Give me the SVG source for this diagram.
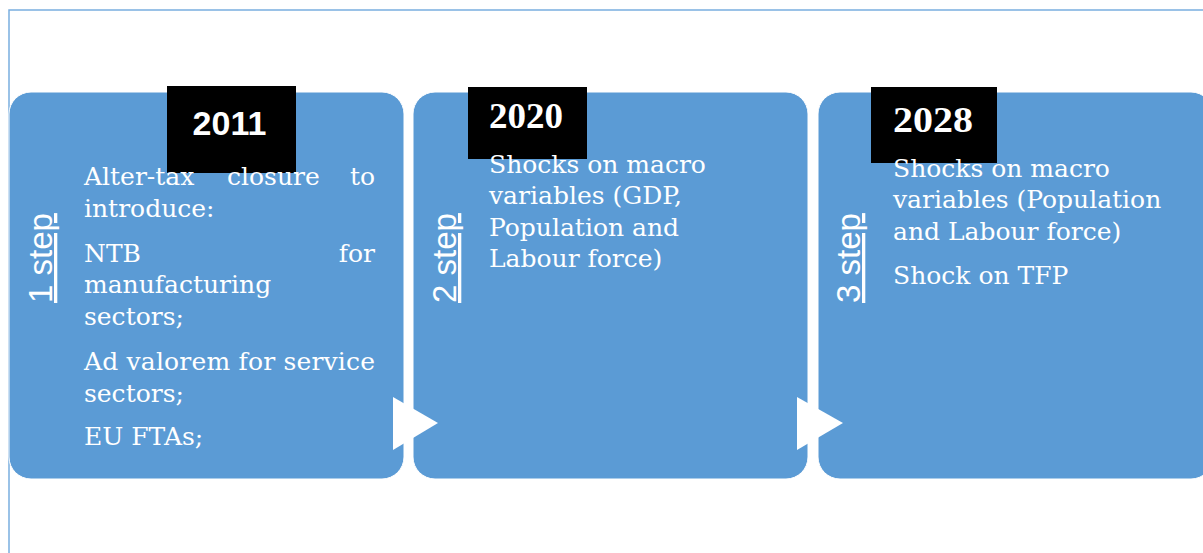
<svg xmlns="http://www.w3.org/2000/svg" width="1203" height="553" viewBox="0 0 1203 553">
<style>
.frame{fill:none;stroke:#7aaee0;stroke-width:1.5}
.box{fill:#5b9bd5;stroke:#ffffff;stroke-width:1}
.tag{fill:#000000}
.yr{fill:#ffffff;font-family:"Liberation Serif",serif;font-weight:bold;font-size:35px}
.yrs{fill:#ffffff;font-family:"Liberation Sans",sans-serif;font-weight:bold;font-size:34px}
.body{fill:#ffffff;font-family:"DejaVu Serif",serif;font-size:25px}
.step{fill:#ffffff;font-family:"Liberation Sans",sans-serif;font-size:33px;text-decoration:underline}
.arrow{fill:#ffffff}
</style>
<rect width="1203" height="553" fill="#ffffff"/>
<path class="frame" d="M9,553 V10 H1203"/>
<g id="step1">
<rect class="box" x="9" y="92" width="395" height="387" rx="22"/>
<text class="step" transform="translate(52,303) rotate(-90)">1 step</text>
<rect class="tag" x="167" y="86" width="129" height="87"/>
<text class="yrs" x="229.5" y="135" text-anchor="middle">2011</text>
<text class="body" x="84" y="185">Alter-tax</text>
<text class="body" x="227" y="185">closure</text>
<text class="body" x="375" y="185" text-anchor="end">to</text>
<text class="body" x="84" y="217">introduce:</text>
<text class="body" x="84" y="262">NTB</text>
<text class="body" x="375" y="262" text-anchor="end">for</text>
<text class="body" x="84" y="293">manufacturing</text>
<text class="body" x="84" y="325">sectors;</text>
<text class="body" x="84" y="370" textLength="291" lengthAdjust="spacing">Ad valorem for service</text>
<text class="body" x="84" y="402">sectors;</text>
<text class="body" x="84" y="445">EU FTAs;</text>
</g>
<g id="step2">
<rect class="box" x="413" y="92" width="395" height="387" rx="22"/>
<text class="step" transform="translate(456,303) rotate(-90)">2 step</text>
<rect class="tag" x="468" y="87" width="119" height="72"/>
<text class="yr" x="489" y="128" textLength="74" lengthAdjust="spacingAndGlyphs">2020</text>
<text class="body" x="489" y="173">Shocks on macro</text>
<text class="body" x="489" y="204">variables (GDP,</text>
<text class="body" x="489" y="236">Population and</text>
<text class="body" x="489" y="267">Labour force)</text>
</g>
<g id="step3">
<rect class="box" x="818" y="92" width="395" height="387" rx="22"/>
<text class="step" transform="translate(860,303) rotate(-90)">3 step</text>
<rect class="tag" x="871" y="87" width="126" height="76"/>
<text class="yr" x="893" y="132" textLength="80" lengthAdjust="spacingAndGlyphs">2028</text>
<text class="body" x="893" y="177">Shocks on macro</text>
<text class="body" x="893" y="208">variables (Population</text>
<text class="body" x="893" y="240">and Labour force)</text>
<text class="body" x="893" y="284">Shock on TFP</text>
</g>
<g id="connectors">
<polygon class="arrow" points="393,397 438,423 393,450"/>
<polygon class="arrow" points="797,397 843,423 797,450"/>
</g>
</svg>
